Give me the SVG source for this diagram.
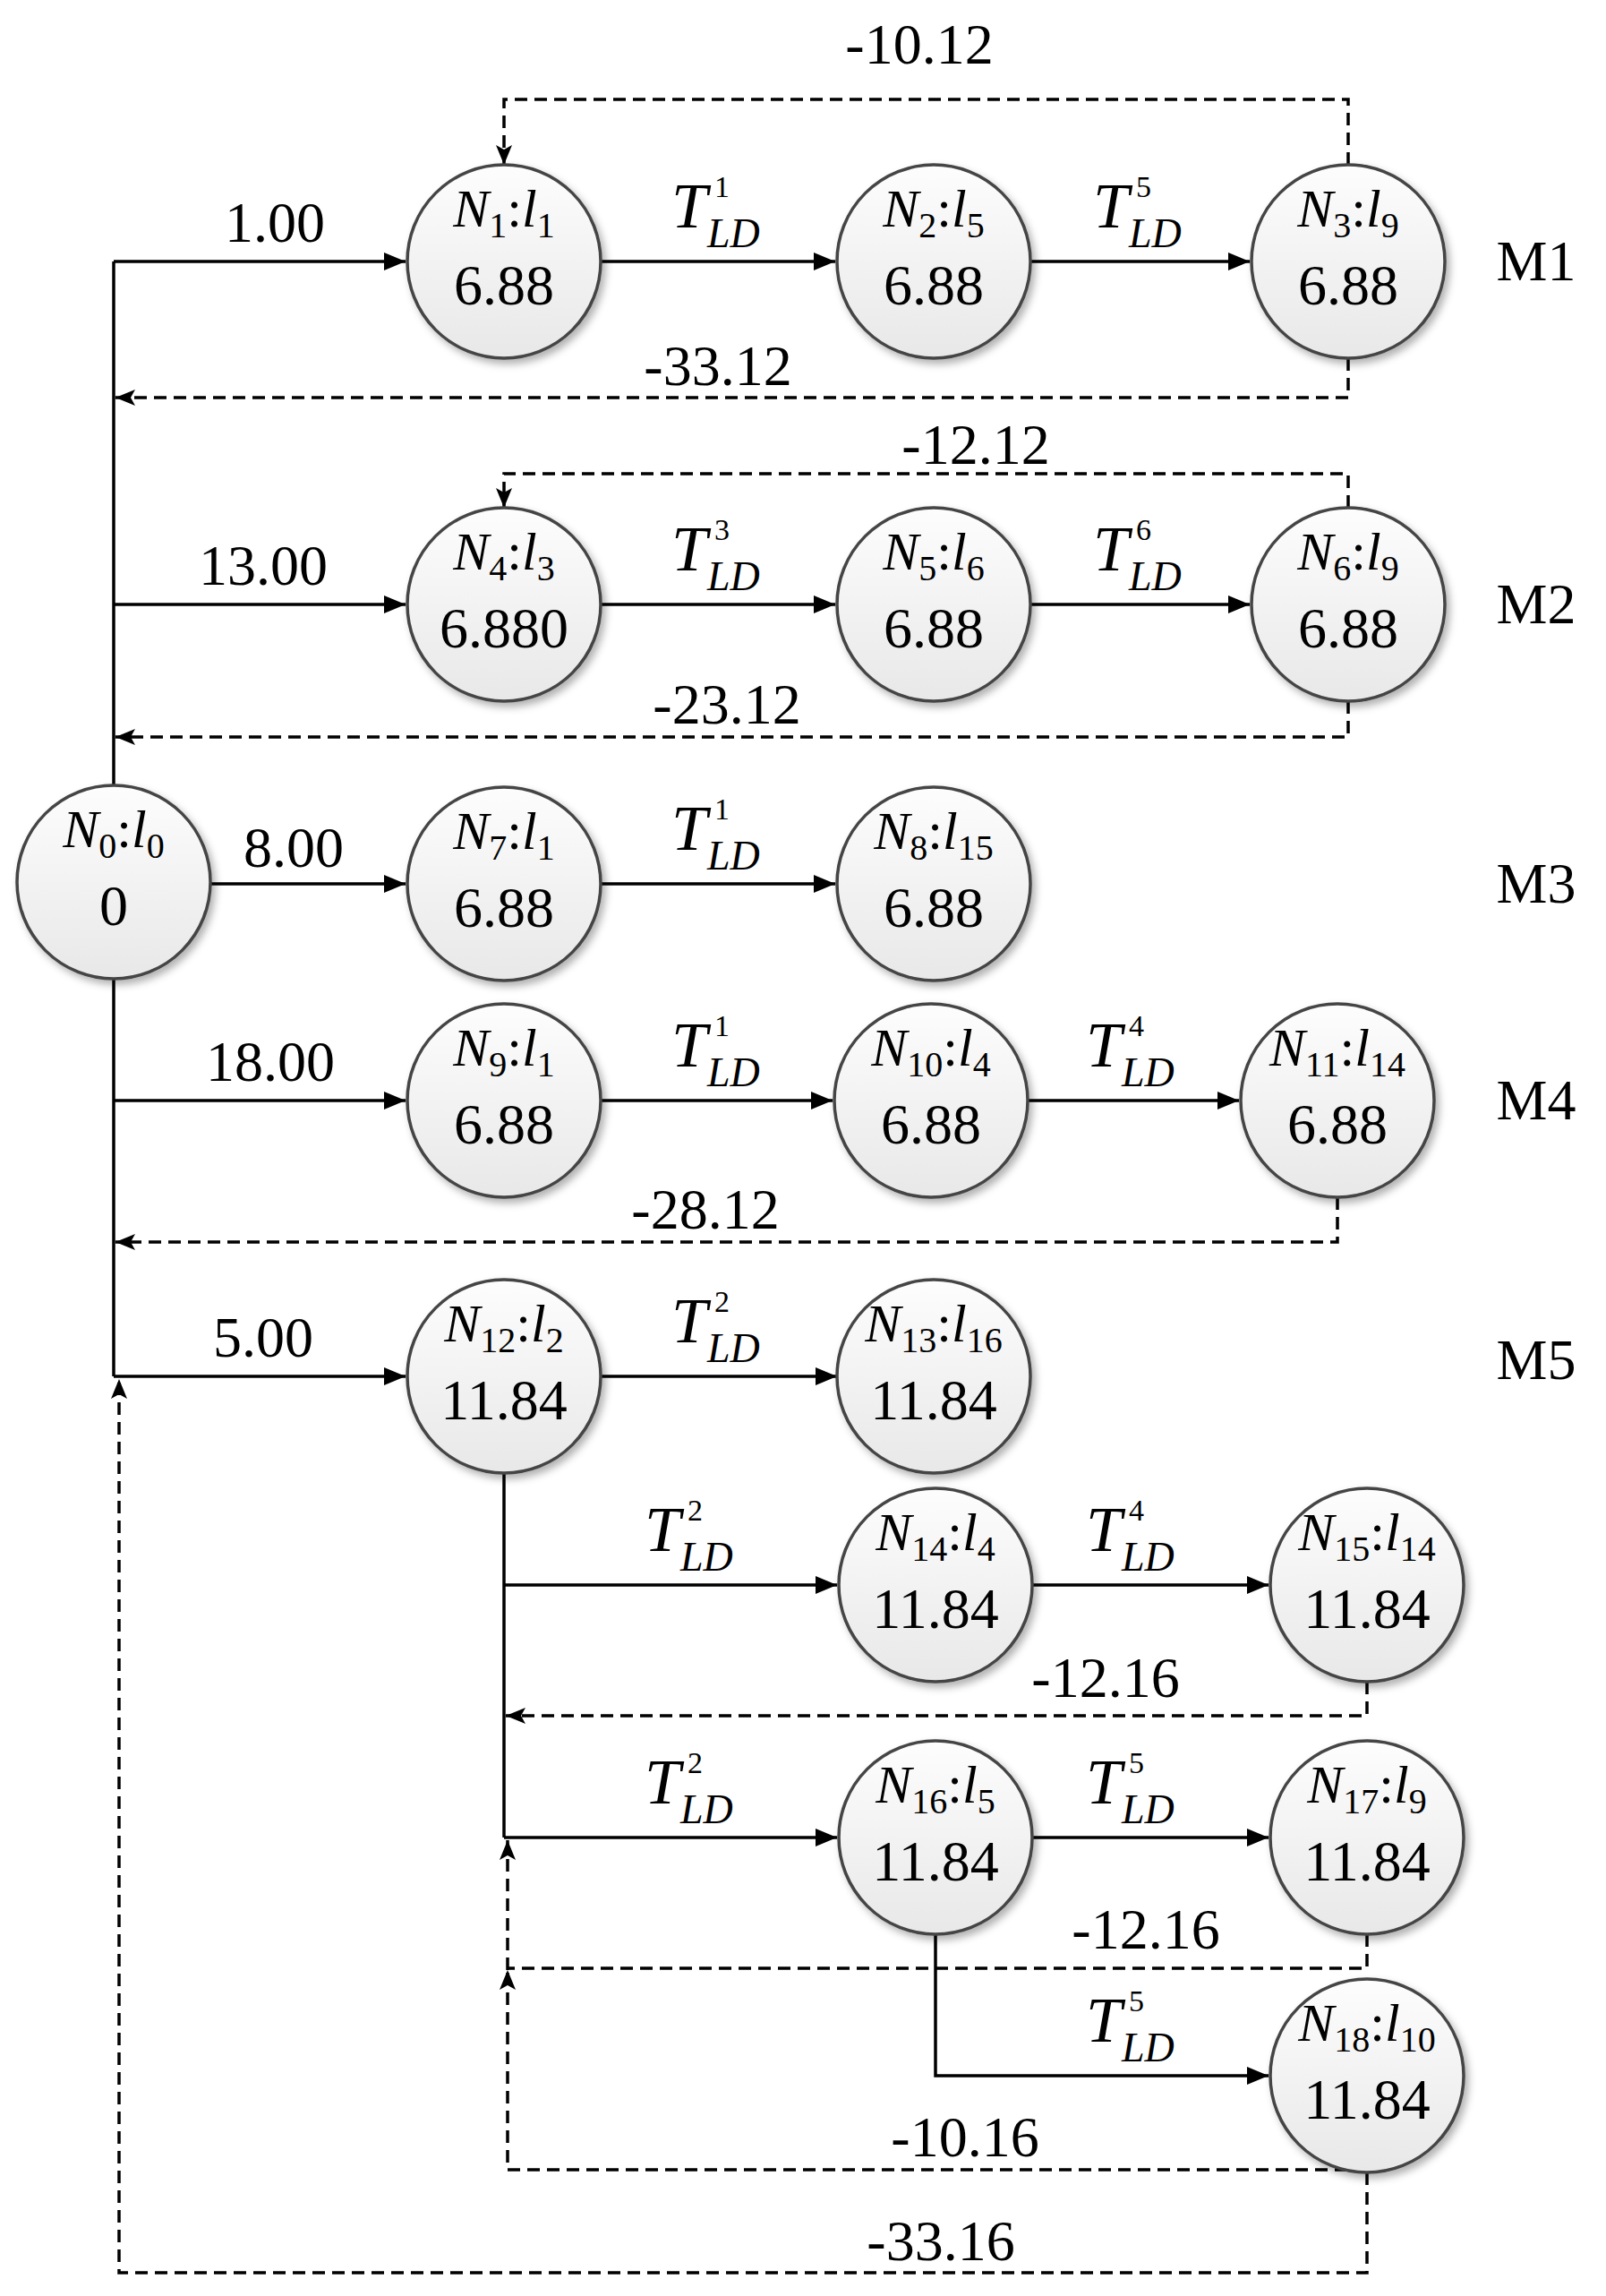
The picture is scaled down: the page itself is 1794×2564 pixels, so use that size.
<svg xmlns="http://www.w3.org/2000/svg" width="1794" height="2564" viewBox="0 0 1794 2564" font-family="'Times New Roman', 'Liberation Serif', 'DejaVu Serif', serif">
<style>
text{font-family:'Times New Roman','Liberation Serif','Noto Serif','DejaVu Serif',serif;fill:#000}
.nl{font-size:60px;text-anchor:middle}
.nv{font-size:64px;text-anchor:middle}
.lb{font-size:64px;text-anchor:middle}
.i{font-style:italic}
.sb{font-size:40px}
.T{font-size:72px;font-style:italic}
.sp{font-size:34px}
.LD{font-size:46px;font-style:italic}
.s{stroke:#000;stroke-width:3.5;fill:none}
.d{stroke:#000;stroke-width:3.5;fill:none;stroke-dasharray:14 8}
circle.n{fill:url(#g);stroke:#444;stroke-width:3.5;filter:url(#sh)}
</style>
<defs>
<linearGradient id="g" x1="0" y1="0" x2="0" y2="1"><stop offset="0" stop-color="#fdfdfd"/><stop offset="1" stop-color="#e8e8e8"/></linearGradient>
<filter id="sh" x="-20%" y="-20%" width="150%" height="150%"><feDropShadow dx="4" dy="5" stdDeviation="4" flood-color="#000" flood-opacity="0.3"/></filter>
<marker id="a" markerWidth="24" markerHeight="20" refX="24" refY="10" orient="auto" markerUnits="userSpaceOnUse"><path d="M0,0 L24,10 L0,20 Z" fill="#000"/></marker>
<marker id="ad" markerWidth="22" markerHeight="18" refX="22" refY="9" orient="auto" markerUnits="userSpaceOnUse"><path d="M0,0 L22,9 L0,18 L5,9 Z" fill="#000"/></marker>
</defs>
<rect width="1794" height="2564" fill="#fff"/>
<g id="connectors">
<path class="s" d="M127,292 V1537"/>
<path class="s" d="M127,292 H453" marker-end="url(#a)"/>
<path class="s" d="M671,292 H933" marker-end="url(#a)"/>
<path class="s" d="M1151,292 H1396" marker-end="url(#a)"/>
<path class="s" d="M127,675 H453" marker-end="url(#a)"/>
<path class="s" d="M671,675 H933" marker-end="url(#a)"/>
<path class="s" d="M1151,675 H1396" marker-end="url(#a)"/>
<path class="s" d="M235,987 H453" marker-end="url(#a)"/>
<path class="s" d="M671,987 H933" marker-end="url(#a)"/>
<path class="s" d="M127,1229 H453" marker-end="url(#a)"/>
<path class="s" d="M671,1229 H930" marker-end="url(#a)"/>
<path class="s" d="M1148,1229 H1384" marker-end="url(#a)"/>
<path class="s" d="M127,1537 H453" marker-end="url(#a)"/>
<path class="s" d="M671,1537 H935" marker-end="url(#a)"/>
<path class="s" d="M563,1645 V2052"/>
<path class="s" d="M563,1770 H935" marker-end="url(#a)"/>
<path class="s" d="M1153,1770 H1417" marker-end="url(#a)"/>
<path class="s" d="M563,2052 H935" marker-end="url(#a)"/>
<path class="s" d="M1153,2052 H1417" marker-end="url(#a)"/>
<path class="s" d="M1045,2160 V2318 H1417" marker-end="url(#a)"/>
<path class="d" d="M1506,184 V111 H563 V184" marker-end="url(#ad)"/>
<path class="d" d="M1506,400 V444 H129" marker-end="url(#ad)"/>
<path class="d" d="M1506,567 V529 H563 V567" marker-end="url(#ad)"/>
<path class="d" d="M1506,783 V823 H129" marker-end="url(#ad)"/>
<path class="d" d="M1494,1337 V1387 H129" marker-end="url(#ad)"/>
<path class="d" d="M1527,1878 V1916 H565" marker-end="url(#ad)"/>
<path class="d" d="M1527,2160 V2198 H567"/>
<path class="d" d="M1527,2423 H567 V2200" marker-end="url(#ad)"/>
<path class="d" d="M567,2200 V2055" marker-end="url(#ad)"/>
<path class="d" d="M1527,2426 V2538 H133 V1540" marker-end="url(#ad)"/>
</g>
<g id="edge-labels">
<text class="lb" x="307" y="270">1.00</text>
<text class="lb" x="294" y="653">13.00</text>
<text class="lb" x="328" y="968">8.00</text>
<text class="lb" x="302" y="1207">18.00</text>
<text class="lb" x="294" y="1515">5.00</text>
<text class="lb" x="1027" y="71">-10.12</text>
<text class="lb" x="802" y="430">-33.12</text>
<text class="lb" x="1090" y="518">-12.12</text>
<text class="lb" x="812" y="808">-23.12</text>
<text class="lb" x="788" y="1372">-28.12</text>
<text class="lb" x="1235" y="1895">-12.16</text>
<text class="lb" x="1280" y="2176">-12.16</text>
<text class="lb" x="1078" y="2408">-10.16</text>
<text class="lb" x="1051" y="2524">-33.16</text>
<text class="lb" x="1716" y="313">M1</text>
<text class="lb" x="1716" y="696">M2</text>
<text class="lb" x="1716" y="1008">M3</text>
<text class="lb" x="1716" y="1250">M4</text>
<text class="lb" x="1716" y="1540">M5</text>
</g>
<g id="t-labels">
<g transform="translate(750,254)"><text class="T">T</text><text class="sp" x="48" y="-34">1</text><text class="LD" x="40" y="22">LD</text></g>
<g transform="translate(1221,254)"><text class="T">T</text><text class="sp" x="48" y="-34">5</text><text class="LD" x="40" y="22">LD</text></g>
<g transform="translate(750,637)"><text class="T">T</text><text class="sp" x="48" y="-34">3</text><text class="LD" x="40" y="22">LD</text></g>
<g transform="translate(1221,637)"><text class="T">T</text><text class="sp" x="48" y="-34">6</text><text class="LD" x="40" y="22">LD</text></g>
<g transform="translate(750,949)"><text class="T">T</text><text class="sp" x="48" y="-34">1</text><text class="LD" x="40" y="22">LD</text></g>
<g transform="translate(750,1191)"><text class="T">T</text><text class="sp" x="48" y="-34">1</text><text class="LD" x="40" y="22">LD</text></g>
<g transform="translate(1213,1191)"><text class="T">T</text><text class="sp" x="48" y="-34">4</text><text class="LD" x="40" y="22">LD</text></g>
<g transform="translate(750,1499)"><text class="T">T</text><text class="sp" x="48" y="-34">2</text><text class="LD" x="40" y="22">LD</text></g>
<g transform="translate(720,1732)"><text class="T">T</text><text class="sp" x="48" y="-34">2</text><text class="LD" x="40" y="22">LD</text></g>
<g transform="translate(1213,1732)"><text class="T">T</text><text class="sp" x="48" y="-34">4</text><text class="LD" x="40" y="22">LD</text></g>
<g transform="translate(720,2014)"><text class="T">T</text><text class="sp" x="48" y="-34">2</text><text class="LD" x="40" y="22">LD</text></g>
<g transform="translate(1213,2014)"><text class="T">T</text><text class="sp" x="48" y="-34">5</text><text class="LD" x="40" y="22">LD</text></g>
<g transform="translate(1213,2280)"><text class="T">T</text><text class="sp" x="48" y="-34">5</text><text class="LD" x="40" y="22">LD</text></g>
</g>
<g id="N0"><circle class="n" cx="127" cy="985" r="108"/><text class="nl" x="127" y="946"><tspan class="i">N</tspan><tspan class="sb" dy="12">0</tspan><tspan dy="-12">:</tspan><tspan class="i">l</tspan><tspan class="sb" dy="12">0</tspan></text><text class="nv" x="127" y="1033">0</text></g>
<g id="N1"><circle class="n" cx="563" cy="292" r="108"/><text class="nl" x="563" y="253"><tspan class="i">N</tspan><tspan class="sb" dy="12">1</tspan><tspan dy="-12">:</tspan><tspan class="i">l</tspan><tspan class="sb" dy="12">1</tspan></text><text class="nv" x="563" y="340">6.88</text></g>
<g id="N2"><circle class="n" cx="1043" cy="292" r="108"/><text class="nl" x="1043" y="253"><tspan class="i">N</tspan><tspan class="sb" dy="12">2</tspan><tspan dy="-12">:</tspan><tspan class="i">l</tspan><tspan class="sb" dy="12">5</tspan></text><text class="nv" x="1043" y="340">6.88</text></g>
<g id="N3"><circle class="n" cx="1506" cy="292" r="108"/><text class="nl" x="1506" y="253"><tspan class="i">N</tspan><tspan class="sb" dy="12">3</tspan><tspan dy="-12">:</tspan><tspan class="i">l</tspan><tspan class="sb" dy="12">9</tspan></text><text class="nv" x="1506" y="340">6.88</text></g>
<g id="N4"><circle class="n" cx="563" cy="675" r="108"/><text class="nl" x="563" y="636"><tspan class="i">N</tspan><tspan class="sb" dy="12">4</tspan><tspan dy="-12">:</tspan><tspan class="i">l</tspan><tspan class="sb" dy="12">3</tspan></text><text class="nv" x="563" y="723">6.880</text></g>
<g id="N5"><circle class="n" cx="1043" cy="675" r="108"/><text class="nl" x="1043" y="636"><tspan class="i">N</tspan><tspan class="sb" dy="12">5</tspan><tspan dy="-12">:</tspan><tspan class="i">l</tspan><tspan class="sb" dy="12">6</tspan></text><text class="nv" x="1043" y="723">6.88</text></g>
<g id="N6"><circle class="n" cx="1506" cy="675" r="108"/><text class="nl" x="1506" y="636"><tspan class="i">N</tspan><tspan class="sb" dy="12">6</tspan><tspan dy="-12">:</tspan><tspan class="i">l</tspan><tspan class="sb" dy="12">9</tspan></text><text class="nv" x="1506" y="723">6.88</text></g>
<g id="N7"><circle class="n" cx="563" cy="987" r="108"/><text class="nl" x="563" y="948"><tspan class="i">N</tspan><tspan class="sb" dy="12">7</tspan><tspan dy="-12">:</tspan><tspan class="i">l</tspan><tspan class="sb" dy="12">1</tspan></text><text class="nv" x="563" y="1035">6.88</text></g>
<g id="N8"><circle class="n" cx="1043" cy="987" r="108"/><text class="nl" x="1043" y="948"><tspan class="i">N</tspan><tspan class="sb" dy="12">8</tspan><tspan dy="-12">:</tspan><tspan class="i">l</tspan><tspan class="sb" dy="12">15</tspan></text><text class="nv" x="1043" y="1035">6.88</text></g>
<g id="N9"><circle class="n" cx="563" cy="1229" r="108"/><text class="nl" x="563" y="1190"><tspan class="i">N</tspan><tspan class="sb" dy="12">9</tspan><tspan dy="-12">:</tspan><tspan class="i">l</tspan><tspan class="sb" dy="12">1</tspan></text><text class="nv" x="563" y="1277">6.88</text></g>
<g id="N10"><circle class="n" cx="1040" cy="1229" r="108"/><text class="nl" x="1040" y="1190"><tspan class="i">N</tspan><tspan class="sb" dy="12">10</tspan><tspan dy="-12">:</tspan><tspan class="i">l</tspan><tspan class="sb" dy="12">4</tspan></text><text class="nv" x="1040" y="1277">6.88</text></g>
<g id="N11"><circle class="n" cx="1494" cy="1229" r="108"/><text class="nl" x="1494" y="1190"><tspan class="i">N</tspan><tspan class="sb" dy="12">11</tspan><tspan dy="-12">:</tspan><tspan class="i">l</tspan><tspan class="sb" dy="12">14</tspan></text><text class="nv" x="1494" y="1277">6.88</text></g>
<g id="N12"><circle class="n" cx="563" cy="1537" r="108"/><text class="nl" x="563" y="1498"><tspan class="i">N</tspan><tspan class="sb" dy="12">12</tspan><tspan dy="-12">:</tspan><tspan class="i">l</tspan><tspan class="sb" dy="12">2</tspan></text><text class="nv" x="563" y="1585">11.84</text></g>
<g id="N13"><circle class="n" cx="1043" cy="1537" r="108"/><text class="nl" x="1043" y="1498"><tspan class="i">N</tspan><tspan class="sb" dy="12">13</tspan><tspan dy="-12">:</tspan><tspan class="i">l</tspan><tspan class="sb" dy="12">16</tspan></text><text class="nv" x="1043" y="1585">11.84</text></g>
<g id="N14"><circle class="n" cx="1045" cy="1770" r="108"/><text class="nl" x="1045" y="1731"><tspan class="i">N</tspan><tspan class="sb" dy="12">14</tspan><tspan dy="-12">:</tspan><tspan class="i">l</tspan><tspan class="sb" dy="12">4</tspan></text><text class="nv" x="1045" y="1818">11.84</text></g>
<g id="N15"><circle class="n" cx="1527" cy="1770" r="108"/><text class="nl" x="1527" y="1731"><tspan class="i">N</tspan><tspan class="sb" dy="12">15</tspan><tspan dy="-12">:</tspan><tspan class="i">l</tspan><tspan class="sb" dy="12">14</tspan></text><text class="nv" x="1527" y="1818">11.84</text></g>
<g id="N16"><circle class="n" cx="1045" cy="2052" r="108"/><text class="nl" x="1045" y="2013"><tspan class="i">N</tspan><tspan class="sb" dy="12">16</tspan><tspan dy="-12">:</tspan><tspan class="i">l</tspan><tspan class="sb" dy="12">5</tspan></text><text class="nv" x="1045" y="2100">11.84</text></g>
<g id="N17"><circle class="n" cx="1527" cy="2052" r="108"/><text class="nl" x="1527" y="2013"><tspan class="i">N</tspan><tspan class="sb" dy="12">17</tspan><tspan dy="-12">:</tspan><tspan class="i">l</tspan><tspan class="sb" dy="12">9</tspan></text><text class="nv" x="1527" y="2100">11.84</text></g>
<g id="N18"><circle class="n" cx="1527" cy="2318" r="108"/><text class="nl" x="1527" y="2279"><tspan class="i">N</tspan><tspan class="sb" dy="12">18</tspan><tspan dy="-12">:</tspan><tspan class="i">l</tspan><tspan class="sb" dy="12">10</tspan></text><text class="nv" x="1527" y="2366">11.84</text></g>
</svg>
